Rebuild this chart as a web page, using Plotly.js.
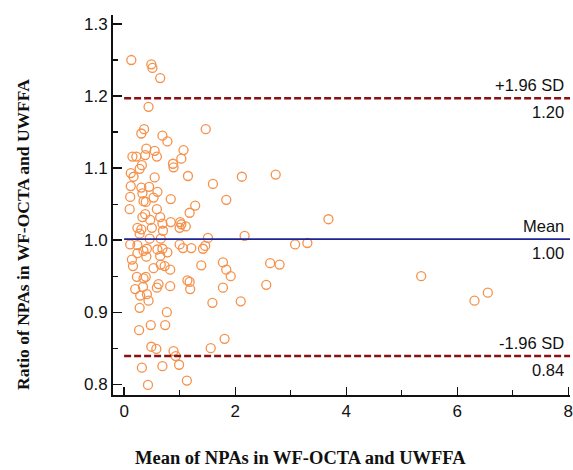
<!DOCTYPE html>
<html>
<head>
<meta charset="utf-8">
<script src="https://cdn.plot.ly/plotly-3.0.1.min.js"></script>
<style>html,body{margin:0;padding:0;background:#fff;}#chart{width:573px;height:470px;}</style>
</head>
<body>
<div id="chart"></div>
<script>
// Mean of NPAs (x) and ratio (y) for each eye
var meanNPA = [
0.13,0.49,0.51,0.65,0.44,1.47,0.36,0.31,0.69,0.78,0.40,0.55,1.07,0.15,0.22,0.38,0.59,1.03,0.88,0.89,
0.32,0.28,0.12,0.17,0.55,1.15,2.12,2.73,1.60,0.12,0.31,0.45,
0.33,0.60,0.11,0.53,0.35,0.39,0.84,1.84,0.10,0.59,1.28,1.18,0.38,0.33,0.47,0.65,0.69,0.84,
1.01,1.03,1.11,1.00,0.24,0.31,0.50,0.70,0.28,0.66,0.46,1.51,2.17,
0.11,0.24,0.41,0.35,0.60,0.69,0.78,1.00,1.06,1.21,1.42,1.46,0.24,0.40,0.14,0.65,0.16,0.53,
0.66,0.73,0.83,1.39,1.78,1.84,1.92,0.23,0.35,0.39,0.62,0.83,1.14,1.18,0.20,0.34,0.59,1.19,1.78,
0.29,0.41,0.44,1.59,2.10,0.28,0.77,0.27,0.48,0.74,1.81,
0.49,0.58,0.89,0.93,1.56,0.32,0.69,0.99,0.43,1.13,
2.63,2.80,2.56,3.68,3.08,3.30,5.35,6.31,6.55
];
var ratioNPA = [
1.250,1.244,1.239,1.225,1.185,1.154,1.154,1.148,1.145,1.137,1.127,1.124,1.125,1.116,1.116,1.118,1.116,1.113,1.106,1.101,
1.104,1.099,1.093,1.088,1.087,1.089,1.088,1.091,1.078,1.075,1.073,1.074,
1.065,1.067,1.060,1.059,1.054,1.053,1.057,1.056,1.043,1.043,1.048,1.038,1.036,1.032,1.028,1.032,1.023,1.025,
1.025,1.022,1.019,1.017,1.017,1.015,1.017,1.013,1.009,1.002,1.002,1.003,1.006,
0.994,0.993,0.988,0.985,0.987,0.988,0.983,0.994,0.989,0.989,0.988,0.992,0.982,0.977,0.973,0.978,0.964,0.961,
0.966,0.964,0.959,0.965,0.969,0.959,0.950,0.949,0.947,0.949,0.939,0.936,0.944,0.942,0.932,0.935,0.934,0.932,0.934,
0.923,0.925,0.916,0.913,0.915,0.906,0.900,0.875,0.882,0.882,0.863,
0.852,0.849,0.846,0.839,0.850,0.823,0.825,0.827,0.799,0.805,
0.968,0.966,0.938,1.029,0.994,0.996,0.950,0.916,0.927
];
// Bland-Altman reference lines
var refNames  = ['+1.96 SD', 'Mean', '-1.96 SD'];
var refLabels = ['1.20', '1.00', '0.84'];
var refValues = [1.197, 1.0015, 0.839];
var refStyles = ['dash', 'solid', 'dash'];

var xTitle = 'Mean of NPAs in WF-OCTA and UWFFA';
var yTitle = 'Ratio of NPAs in WF-OCTA and UWFFA';

var xMax = 8.03;
var shapes = [];
var annotations = [];
for (var i = 0; i < refValues.length; i++) {
  var isDash = refStyles[i] === 'dash';
  shapes.push({
    type: 'line', xref: 'x', yref: 'y',
    x0: 0, x1: xMax, y0: refValues[i], y1: refValues[i],
    line: {color: isDash ? '#8B1212' : '#1E2496', width: isDash ? 2.5 : 1.8, dash: isDash ? '7px,3px' : 'solid'}
  });
  annotations.push({
    xref: 'paper', yref: 'y', x: 1, y: refValues[i], xanchor: 'right', yanchor: 'middle',
    xshift: -4, yshift: 13, text: refNames[i], showarrow: false,
    font: {family: 'Liberation Sans, Arial, sans-serif', size: 16.5, color: '#111'}
  });
  annotations.push({
    xref: 'paper', yref: 'y', x: 1, y: refValues[i], xanchor: 'right', yanchor: 'middle',
    xshift: -4, yshift: -14, text: refLabels[i], showarrow: false,
    font: {family: 'Liberation Sans, Arial, sans-serif', size: 16.5, color: '#111'}
  });
}
annotations.push({
  xref: 'paper', yref: 'paper', x: (300 - 113) / 457, y: -(458 - 395) / 380,
  xanchor: 'center', yanchor: 'middle', text: '<b>' + xTitle + '</b>', showarrow: false,
  font: {family: 'Liberation Serif, Times New Roman, serif', size: 18.5, color: '#111'}
});
annotations.push({
  xref: 'paper', yref: 'paper', x: -(113 - 23) / 457, y: (395 - 235) / 380,
  xanchor: 'center', yanchor: 'middle', textangle: -90, text: '<b>' + yTitle + '</b>', showarrow: false,
  font: {family: 'Liberation Serif, Times New Roman, serif', size: 17.5, color: '#111'}
});

var trace = {
  x: meanNPA, y: ratioNPA, type: 'scatter', mode: 'markers',
  marker: {symbol: 'circle-open', size: 9, color: '#F5914A', line: {width: 1.3, color: '#F5914A'}},
  hoverinfo: 'x+y'
};

var axisFont = {family: 'Liberation Sans, Arial, sans-serif', size: 17, color: '#111'};
var layout = {
  width: 573, height: 470,
  margin: {l: 113, r: 3, t: 15, b: 75, pad: 0},
  paper_bgcolor: '#fff', plot_bgcolor: '#fff',
  showlegend: false,
  xaxis: {
    range: [-0.2, xMax], showgrid: false, zeroline: false,
    showline: true, linecolor: '#111', linewidth: 2,
    ticks: 'inside', ticklen: 8, tickwidth: 1.3, tickcolor: '#111',
    tickmode: 'linear', tick0: 0, dtick: 2, tickfont: axisFont,
    ticklabeloverflow: 'allow',
    minor: {ticks: 'inside', ticklen: 5, tickwidth: 1.2, tickcolor: '#111', dtick: 1, tick0: 0, showgrid: false}
  },
  yaxis: {
    range: [0.785, 1.3125], showgrid: false, zeroline: false,
    showline: true, linecolor: '#111', linewidth: 2,
    ticks: 'inside', ticklen: 9, tickwidth: 1.3, tickcolor: '#111',
    tickmode: 'linear', tick0: 0.8, dtick: 0.1, tickformat: '.1f', tickfont: axisFont,
    ticklabeloverflow: 'allow',
    minor: {ticks: 'inside', ticklen: 5, tickwidth: 1.2, tickcolor: '#111', dtick: 0.05, tick0: 0.8, showgrid: false}
  },
  shapes: shapes,
  annotations: annotations
};
Plotly.newPlot('chart', [trace], layout, {staticPlot: true, displayModeBar: false});
</script>
</body>
</html>
